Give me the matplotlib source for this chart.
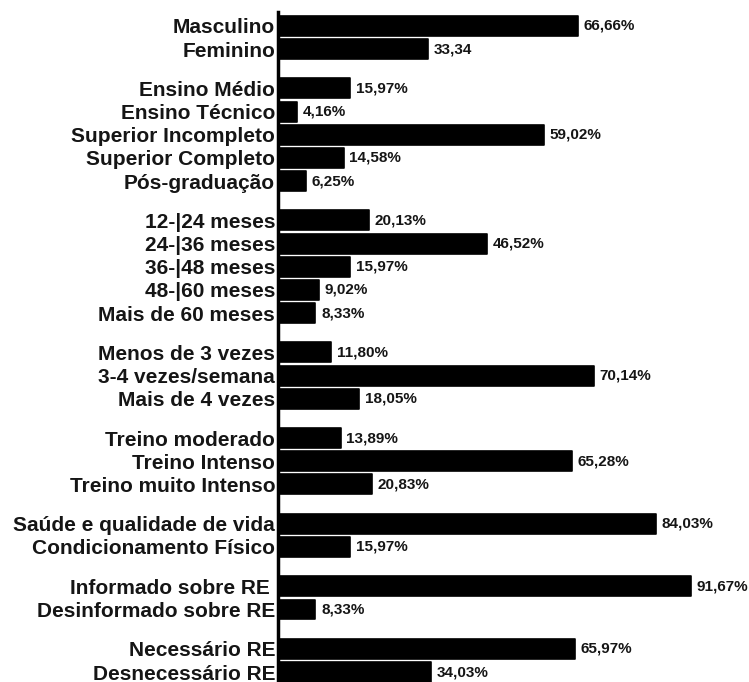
import matplotlib
matplotlib.use("Agg")
import matplotlib.pyplot as plt

categories = [
    "Masculino", "Feminino",
    "Ensino Médio", "Ensino Técnico", "Superior Incompleto", "Superior Completo", "Pós-graduação",
    "12-|24 meses", "24-|36 meses", "36-|48 meses", "48-|60 meses", "Mais de 60 meses",
    "Menos de 3 vezes", "3-4 vezes/semana", "Mais de 4 vezes",
    "Treino moderado", "Treino Intenso", "Treino muito Intenso",
    "Saúde e qualidade de vida", "Condicionamento Físico",
    "Informado sobre RE ", "Desinformado sobre RE",
    "Necessário RE", "Desnecessário RE",
]
group_sizes = [2, 5, 5, 3, 3, 2, 2, 2]
values = [66.66, 33.34,
          15.97, 4.16, 59.02, 14.58, 6.25,
          20.13, 46.52, 15.97, 9.02, 8.33,
          11.80, 70.14, 18.05,
          13.89, 65.28, 20.83,
          84.03, 15.97,
          91.67, 8.33,
          65.97, 34.03]
value_labels = ["66,66%", "33,34",
                "15,97%", "4,16%", "59,02%", "14,58%", "6,25%",
                "20,13%", "46,52%", "15,97%", "9,02%", "8,33%",
                "11,80%", "70,14%", "18,05%",
                "13,89%", "65,28%", "20,83%",
                "84,03%", "15,97%",
                "91,67%", "8,33%",
                "65,97%", "34,03%"]

GAP = 0.7
positions = []
p = 0.0
for gi, n in enumerate(group_sizes):
    for k in range(n):
        positions.append(p)
        p += 1
    p += GAP

fig = plt.figure(figsize=(7.49, 6.82), dpi=100)
ax = fig.add_axes([278 / 749, 0.0, 1 - 278 / 749, 1 - 12 / 682])

ax.barh(positions, values, height=0.86, color="black", edgecolor="black",
        linewidth=1.2, joinstyle="round")

for y, v, lab in zip(positions, values, value_labels):
    ax.text(v + 1.3, y, lab, va="center", ha="left", fontsize=11,
            fontweight="bold", family="Liberation Sans", color="#151515")

ax.set_yticks(positions)
ax.set_yticklabels(categories, fontsize=15, fontweight="bold",
                   family="Liberation Sans", color="#151515")
ax.tick_params(axis="y", length=0, pad=2)
ax.set_xticks([])
ax.set_xlim(0, 471 / 4.5)
ax.set_ylim(positions[-1] + 0.43, -0.6)
for s in ["top", "right", "bottom"]:
    ax.spines[s].set_visible(False)
ax.spines["left"].set_linewidth(2.5)
ax.spines["left"].set_color("black")

fig.savefig("out.png", dpi=100)
